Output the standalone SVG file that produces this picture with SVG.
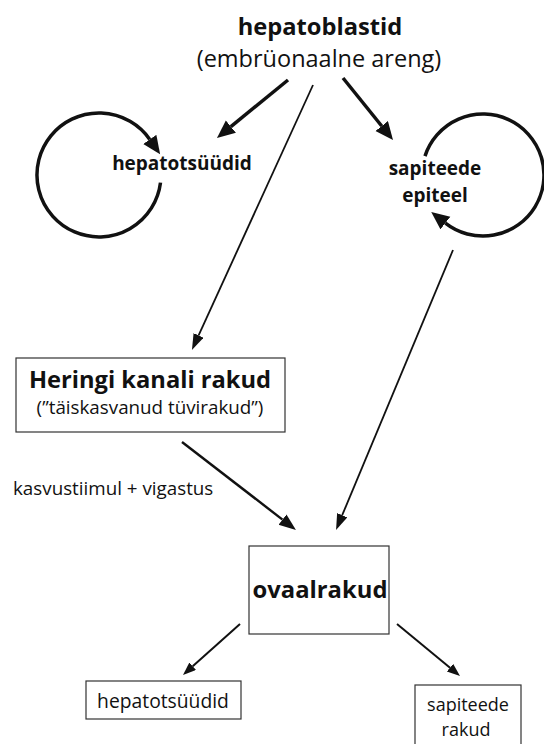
<svg xmlns="http://www.w3.org/2000/svg" width="544" height="744" viewBox="0 0 544 744">
<style>
text{font-family:"Open Sans","Noto Sans","Liberation Sans",sans-serif;fill:#111;text-anchor:middle}
.b{font-weight:bold}
.box{fill:#fff;stroke:#333;stroke-width:1.2}
.thick{fill:none;stroke:#111;stroke-width:3.5}
.loop{fill:none;stroke:#111;stroke-width:3.5}
.thin{fill:none;stroke:#111;stroke-width:1.8}
.med{fill:none;stroke:#111;stroke-width:2.4}
.sm{fill:none;stroke:#111;stroke-width:2}
</style>
<defs>
<marker id="big" markerUnits="userSpaceOnUse" markerWidth="19" markerHeight="17" refX="0" refY="8" orient="auto"><path d="M0,0 L18,8 L0,16 Z" fill="#111"/></marker>
<marker id="thinh" markerUnits="userSpaceOnUse" markerWidth="17" markerHeight="12" refX="0" refY="5.5" orient="auto"><path d="M0,0 L16,5.5 L0,11 Z" fill="#111"/></marker>
<marker id="medh" markerUnits="userSpaceOnUse" markerWidth="18" markerHeight="14" refX="0" refY="6.5" orient="auto"><path d="M0,0 L17,6.5 L0,13 Z" fill="#111"/></marker>
<marker id="smh" markerUnits="userSpaceOnUse" markerWidth="14" markerHeight="11" refX="0" refY="5" orient="auto"><path d="M0,0 L13,5 L0,10 Z" fill="#111"/></marker>
</defs>
<rect width="544" height="744" fill="#fff"/>

<g id="connectors">
<path class="thick" d="M288,80 L230.9,126.6" marker-end="url(#big)"/>
<path class="thick" d="M343,78 L381.7,126" marker-end="url(#big)"/>
<path class="thin" d="M313,85 L198.6,335.4" marker-end="url(#thinh)"/>
<path class="thin" d="M453,250 L342.2,515.2" marker-end="url(#thinh)"/>
<path class="med" d="M182,442 L282.5,519.6" marker-end="url(#medh)"/>
<path class="sm" d="M240,624 L192.7,666.3" marker-end="url(#smh)"/>
<path class="sm" d="M397,624 L450,667.7" marker-end="url(#smh)"/>
<path class="loop" d="M160.5,182.6 A62,62 0 1 1 149.8,139.4" marker-end="url(#big)"/>
<path class="loop" d="M425,156.1 A61,61 0 1 1 445.4,223.1" marker-end="url(#big)"/>
</g>

<g id="hepatoblastid">
<text class="b" x="320" y="35" font-size="23.7">hepatoblastid</text>
<text x="319" y="67" font-size="23.5">(embrüonaalne areng)</text>
</g>

<g id="hepatotsyydid-top">
<text class="b" x="182" y="170" font-size="19">hepatotsüüdid</text>
</g>

<g id="sapiteede-epiteel">
<text class="b" x="435" y="175" font-size="19">sapiteede</text>
<text class="b" x="435" y="202" font-size="19">epiteel</text>
</g>

<g id="heringi">
<rect class="box" x="16" y="358" width="269" height="74"/>
<text class="b" x="150" y="388" font-size="23.7">Heringi kanali rakud</text>
<text x="150" y="414" font-size="18.8">(”täiskasvanud tüvirakud”)</text>
</g>

<g id="label-kasvustiimul">
<text x="13" y="495" font-size="18.8" style="text-anchor:start">kasvustiimul + vigastus</text>
</g>

<g id="ovaalrakud">
<rect class="box" x="249" y="546" width="140" height="88"/>
<text class="b" x="320" y="598" font-size="23.8">ovaalrakud</text>
</g>

<g id="hepatotsyydid-bottom">
<rect class="box" x="86" y="681" width="155" height="38"/>
<text x="163" y="708" font-size="19.3">hepatotsüüdid</text>
</g>

<g id="sapiteede-rakud">
<rect class="box" x="415" y="685" width="106" height="64"/>
<text x="468" y="711" font-size="18">sapiteede</text>
<text x="466" y="736" font-size="18">rakud</text>
</g>
</svg>
